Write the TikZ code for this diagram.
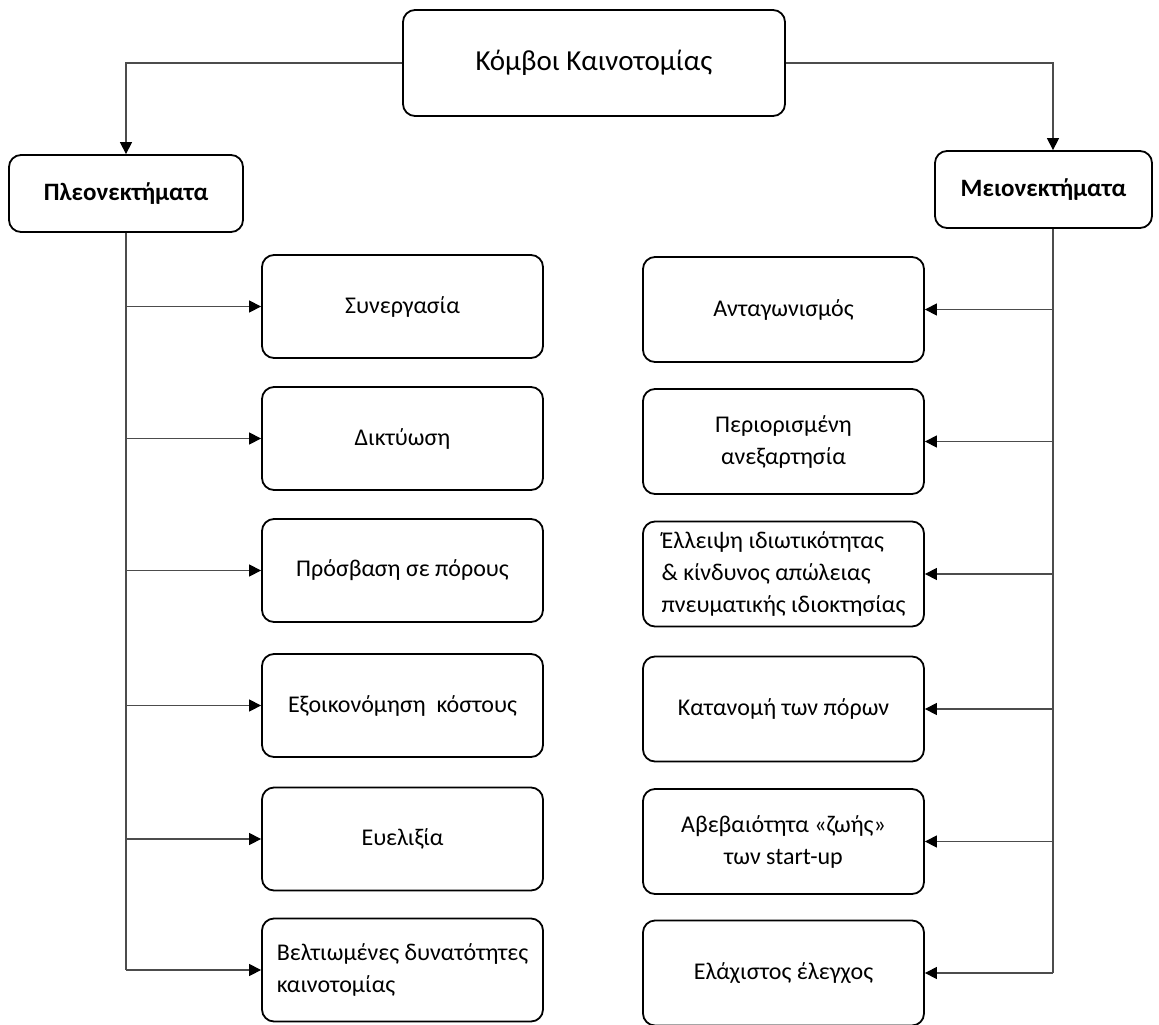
\documentclass[tikz,border=0pt]{standalone}
\usepackage{fontspec}
\setmainfont{Carlito}
\usetikzlibrary{arrows.meta}
\begin{document}
\begin{tikzpicture}[x=1pt,y=-1pt,
  box/.style={draw=black, line width=1.8pt, rounded corners=12pt, align=center,
    inner sep=0pt, font=\fontsize{24}{32}\selectfont},
  lbox/.style={box, minimum width=281pt, minimum height=103pt},
  rbox/.style={box, minimum width=281pt, minimum height=105pt},
  head/.style={box, minimum height=77pt, font=\fontsize{25}{30}\selectfont\bfseries},
  conn/.style={draw=black!70, line width=1.3pt},
  arr/.style={conn, -{Triangle[length=12pt,width=12pt,color=black]}},
]
\fill[white] (0,0) rectangle (1159,1025);
\useasboundingbox (0,0) rectangle (1159,1025);

% root and the two branches
\node[box, minimum width=382pt, minimum height=106pt, font=\fontsize{29}{34}\selectfont]
  (top) at (594,63) {Κόμβοι Καινοτομίας};
\node[head, minimum width=234pt] (pl) at (126,193.5) {Πλεονεκτήματα};
\node[head, minimum width=217pt] (mi) at (1043.5,189.5) {Μειονεκτήματα};

% advantages
\node[lbox] (a1) at (402.5,306.5) {Συνεργασία};
\node[lbox] (a2) at (402.5,438.5) {Δικτύωση};
\node[lbox] (a3) at (402.5,570.5) {Πρόσβαση σε πόρους};
\node[lbox] (a4) at (402.5,705.5) {Εξοικονόμηση~ κόστους};
\node[lbox] (a5) at (402.5,839) {Ευελιξία};
\node[lbox, align=left] (a6) at (402.5,970) {Βελτιωμένες δυνατότητες\\καινοτομίας};

% disadvantages
\node[rbox] (b1) at (783.5,309.5) {Ανταγωνισμός};
\node[rbox] (b2) at (783.5,441.5) {Περιορισμένη\\ανεξαρτησία};
\node[rbox, align=left] (b3) at (783.5,574) {Έλλειψη ιδιωτικότητας\\\& κίνδυνος απώλειας\\πνευματικής ιδιοκτησίας};
\node[rbox] (b4) at (783.5,709) {Κατανομή των πόρων};
\node[rbox] (b5) at (783.5,841.5) {Αβεβαιότητα «ζωής»\\των start-up};
\node[rbox] (b6) at (783.5,973) {Ελάχιστος έλεγχος};

% connectors from the root
\coordinate (mtop) at ([xshift=9.5pt]mi.north);
\coordinate (mbot) at ([xshift=9.5pt]mi.south);
\draw[arr] (top.west) -| (pl.north);
\draw[arr] (top.east) -| (mtop);

% left trunk and its branches
\draw[conn] (pl.south) -- (pl.south |- a6.west);
\foreach \i in {1,...,6} \draw[arr] (pl.south |- a\i.west) -- (a\i.west);

% right trunk and its branches
\draw[conn] (mbot) -- (mbot |- b6.east);
\foreach \i in {1,...,6} \draw[arr] (mbot |- b\i.east) -- (b\i.east);
\end{tikzpicture}
\end{document}
